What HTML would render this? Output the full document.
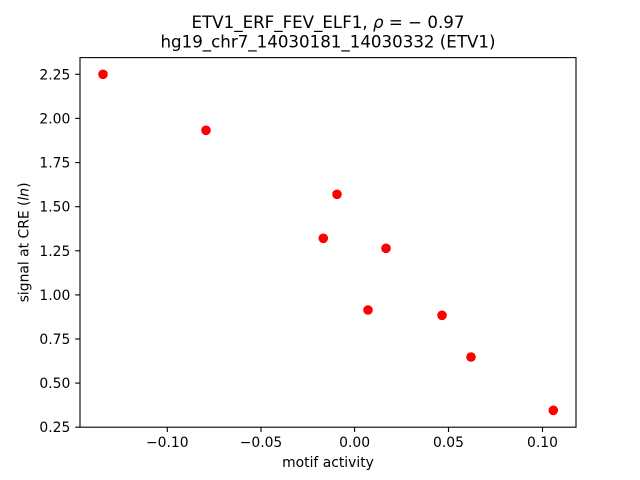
<!DOCTYPE html>
<html>
<head>
<meta charset="utf-8">
<style>
  html, body { margin: 0; padding: 0; background: #fff; }
  svg { display: block; }
  text { font-family: "DejaVu Sans", "Liberation Sans", sans-serif; fill: #000; }
</style>
</head>
<body>
<svg width="640" height="480" viewBox="0 0 640 480" xmlns="http://www.w3.org/2000/svg">
  <rect x="0" y="0" width="640" height="480" fill="#fff"/>

  <!-- title -->
  <text x="328" y="28" font-size="16.67" text-anchor="middle">ETV1_ERF_FEV_ELF1, <tspan font-style="italic">ρ</tspan> = − 0.97</text>
  <text x="328" y="47.5" font-size="16.67" text-anchor="middle">hg19_chr7_14030181_14030332 (ETV1)</text>

  <!-- points -->
  <g fill="#ff0000">
    <circle cx="103" cy="74.3" r="4.8"/>
    <circle cx="206" cy="130.3" r="4.8"/>
    <circle cx="337" cy="194.3" r="4.8"/>
    <circle cx="323.3" cy="238.3" r="4.8"/>
    <circle cx="386" cy="248.3" r="4.8"/>
    <circle cx="368" cy="310" r="4.8"/>
    <circle cx="442" cy="315.3" r="4.8"/>
    <circle cx="471" cy="357" r="4.8"/>
    <circle cx="553.3" cy="410.3" r="4.8"/>
  </g>

  <!-- axes frame -->
  <rect x="80" y="57.6" width="496" height="369.6" fill="none" stroke="#000" stroke-width="1.1"/>

  <!-- x ticks -->
  <g stroke="#000" stroke-width="1.1">
    <line x1="167.3" y1="427.2" x2="167.3" y2="432"/>
    <line x1="261" y1="427.2" x2="261" y2="432"/>
    <line x1="354.6" y1="427.2" x2="354.6" y2="432"/>
    <line x1="448.5" y1="427.2" x2="448.5" y2="432"/>
    <line x1="542.5" y1="427.2" x2="542.5" y2="432"/>
  </g>
  <g font-size="13.89" text-anchor="middle">
    <text x="167.3" y="447">−0.10</text>
    <text x="261" y="447">−0.05</text>
    <text x="354.6" y="447">0.00</text>
    <text x="448.5" y="447">0.05</text>
    <text x="542.5" y="447">0.10</text>
  </g>
  <text x="328" y="467" font-size="13.89" text-anchor="middle">motif activity</text>

  <!-- y ticks -->
  <g stroke="#000" stroke-width="1.1">
    <line x1="75.2" y1="74.3" x2="80" y2="74.3"/>
    <line x1="75.2" y1="118.4" x2="80" y2="118.4"/>
    <line x1="75.2" y1="162.6" x2="80" y2="162.6"/>
    <line x1="75.2" y1="206.7" x2="80" y2="206.7"/>
    <line x1="75.2" y1="250.8" x2="80" y2="250.8"/>
    <line x1="75.2" y1="294.9" x2="80" y2="294.9"/>
    <line x1="75.2" y1="339.0" x2="80" y2="339.0"/>
    <line x1="75.2" y1="383.1" x2="80" y2="383.1"/>
    <line x1="75.2" y1="427.2" x2="80" y2="427.2"/>
  </g>
  <g font-size="13.89" text-anchor="end">
    <text x="70.3" y="79.3">2.25</text>
    <text x="70.3" y="123.4">2.00</text>
    <text x="70.3" y="167.6">1.75</text>
    <text x="70.3" y="211.7">1.50</text>
    <text x="70.3" y="255.8">1.25</text>
    <text x="70.3" y="299.9">1.00</text>
    <text x="70.3" y="344.0">0.75</text>
    <text x="70.3" y="388.1">0.50</text>
    <text x="70.3" y="432.2">0.25</text>
  </g>
  <text transform="translate(28.5,242.4) rotate(-90)" font-size="13.89" text-anchor="middle">signal at CRE (<tspan font-style="italic">ln</tspan>)</text>
</svg>
</body>
</html>
